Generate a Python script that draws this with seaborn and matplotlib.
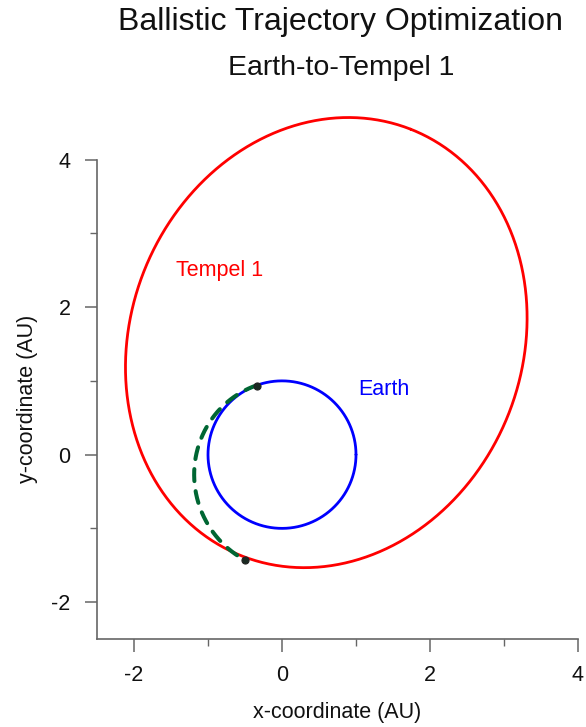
import numpy as np
import pandas as pd
import matplotlib
matplotlib.use("Agg")
import matplotlib.pyplot as plt
import seaborn as sns

# ---- data (orbital elements, AU / degrees) ----
orbit_names = ["Earth", "Tempel 1"]
orbit_a = [1.0, 3.11]          # semi-major axis
orbit_e = [0.0, 0.525]         # eccentricity
orbit_w = [0.0, 68.5]          # aphelion direction (deg)
transfer_p = 1.228             # semi-latus rectum of transfer conic
transfer_e = 0.229
transfer_w = 105.0             # periapsis direction (deg)
transfer_theta = [110.0, 250.7]  # start / end true longitude (deg)
depart_xy = [-0.34, 0.93]
arrive_xy = [-0.50, -1.43]
xticks = [-2, 0, 2, 4]
yticks = [-2, 0, 2, 4]
xminor = [-1, 1, 3]
yminor = [-1, 1, 3]

sns.set_theme(style="ticks")
plt.rcParams['font.family'] = ['Liberation Sans', 'DejaVu Sans']
plt.rcParams['axes.unicode_minus'] = False

def ellipse(a, e, w):
    t = np.linspace(0, 2 * np.pi, 720)
    b = a * np.sqrt(1 - e ** 2)
    c = a * e
    ang = np.radians(w)
    x0 = c * np.cos(ang)
    y0 = c * np.sin(ang)
    xs = a * np.cos(t)
    ys = b * np.sin(t)
    return x0 + xs * np.cos(ang) - ys * np.sin(ang), y0 + xs * np.sin(ang) + ys * np.cos(ang)

frames = []
for n, a, e, w in zip(orbit_names, orbit_a, orbit_e, orbit_w):
    x, y = ellipse(a, e, w)
    frames.append(pd.DataFrame({"x": x, "y": y, "body": n}))
orbits = pd.concat(frames, ignore_index=True)

th = np.radians(np.linspace(transfer_theta[0], transfer_theta[1], 300))
r = transfer_p / (1 + transfer_e * np.cos(th - np.radians(transfer_w)))
transfer = pd.DataFrame({"x": r * np.cos(th), "y": r * np.sin(th)})

fig = plt.figure(figsize=(5.86, 7.27), dpi=100)
ax = fig.add_axes([97 / 586, 1 - 639 / 727, 481 / 586, 531 / 727])

sns.lineplot(data=orbits, x="x", y="y", hue="body",
             palette={"Earth": "#0000FF", "Tempel 1": "#FF0000"}, sort=False,
             estimator=None, lw=2, ax=ax, legend=False)
sns.lineplot(data=transfer, x="x", y="y", sort=False, estimator=None, color="#006633",
             lw=2.9, ax=ax, legend=False)
ax.lines[-1].set_dashes([3.0, 2.5])
ax.lines[-1].set_dash_capstyle("round")
pts = pd.DataFrame({"x": [depart_xy[0], arrive_xy[0]], "y": [depart_xy[1], arrive_xy[1]]})
sns.scatterplot(data=pts, x="x", y="y", color="#1a2a22", edgecolor="#222222", s=26,
                linewidth=0.8, ax=ax, zorder=5)

ax.text(-0.85, 2.49, "Tempel 1", color="#FF0000", fontsize=15.5, ha="center", va="center")
ax.text(1.37, 0.88, "Earth", color="#0000FF", fontsize=15.5, ha="center", va="center")

ax.set_xlim(-2.5, 4.0)
ax.set_ylim(-2.5, 4.7)
for s in ["top", "right"]:
    ax.spines[s].set_visible(False)
ax.spines["left"].set_bounds(-2.5, 4)
ax.spines["bottom"].set_bounds(-2.5, 4)
for s in ["left", "bottom"]:
    ax.spines[s].set_color("#666666")
    ax.spines[s].set_linewidth(1.2)
ax.set_xticks(xticks)
ax.set_yticks(yticks)
ax.set_xticks(xminor, minor=True)
ax.set_yticks(yminor, minor=True)
ax.tick_params(which="major", length=9, width=1.1, color="#666666", labelsize=15.5,
               labelcolor="#111111")
ax.tick_params(axis="y", which="major", pad=10)
ax.tick_params(axis="x", which="major", pad=10)
ax.tick_params(which="minor", length=4.8, width=1.0, color="#666666")
ax.set_xlabel("x-coordinate (AU)", fontsize=15.5, color="#111111")
ax.set_ylabel("y-coordinate (AU)", fontsize=15.5, color="#111111")
ax.xaxis.set_label_coords(0.5, -0.138)
ax.yaxis.set_label_coords(-0.145, 6.5 / 7.2 / 2)
ax.xaxis.label.set_va("center")
ax.yaxis.label.set_va("center")

fig.text(340 / 586, 1 - 22 / 727, "Ballistic Trajectory Optimization", ha="center", va="center",
         fontsize=23, color="#111111")
fig.text(341 / 586, 1 - 68 / 727, "Earth-to-Tempel 1", ha="center", va="center",
         fontsize=20.5, color="#111111")

fig.savefig("out.png", dpi=100, facecolor="white")
